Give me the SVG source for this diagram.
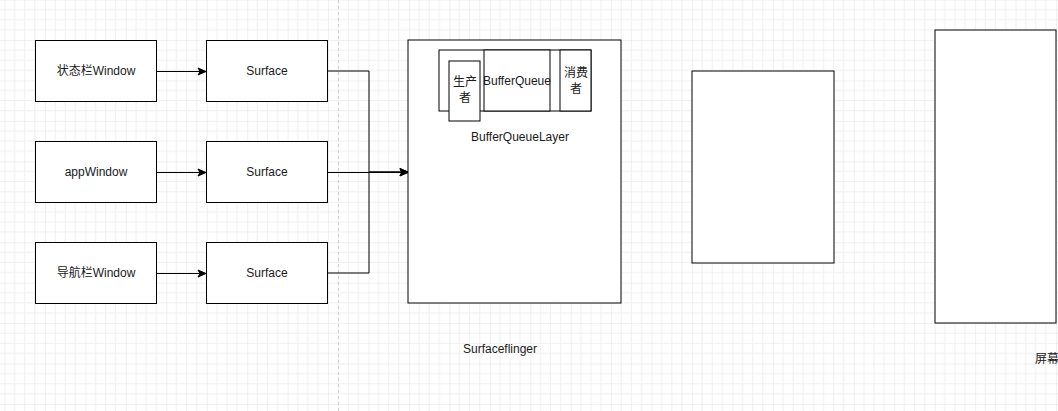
<svg xmlns="http://www.w3.org/2000/svg" width="1058" height="411" viewBox="0 0 1058 411">
<defs>
<pattern id="grid" patternUnits="userSpaceOnUse" x="4.56" y="-0.44" width="40.44" height="40.44">
<path d="M10.11,0V40.44M20.22,0V40.44M30.33,0V40.44M0,10.11H40.44M0,20.22H40.44M0,30.33H40.44" fill="none" stroke="#f0f0f0" stroke-width="1"/>
<path d="M0,0V40.44M0,0H40.44" fill="none" stroke="#e2e2e2" stroke-width="1"/>
</pattern>
<marker id="arrow" markerUnits="userSpaceOnUse" markerWidth="10" markerHeight="10" viewBox="0 0 10 10" refX="9" refY="5" orient="auto">
<path d="M1,1.5 L9,5 L1,8.5 L3,5 Z" fill="#000" stroke="#000" stroke-width="1"/>
</marker>
</defs>
<style>
.box{fill:#fff;stroke:#000;stroke-width:1}
.soft{fill:#fff;stroke:#000;stroke-width:1}
.t{font-family:"Liberation Sans","Noto Sans CJK SC",Arial,sans-serif;font-size:12px;fill:#1a1a1a;text-anchor:middle;dominant-baseline:central}
.edge{fill:none;stroke:#000;stroke-width:1}
</style>
<rect x="0" y="0" width="1058" height="411" fill="#fff"/>
<rect x="0" y="0" width="1058" height="411" fill="url(#grid)"/>
<line x1="338.5" y1="0" x2="338.5" y2="411" stroke="#cfcfcf" stroke-width="1" stroke-dasharray="3 3"/>

<g id="connectors">
<line class="edge" x1="156.5" y1="71.5" x2="206" y2="71.5" marker-end="url(#arrow)"/>
<line class="edge" x1="156.5" y1="172.5" x2="206" y2="172.5" marker-end="url(#arrow)"/>
<line class="edge" x1="156.5" y1="273.5" x2="206" y2="273.5" marker-end="url(#arrow)"/>
<path class="edge" d="M327,71 H369 V172 H408" marker-end="url(#arrow)"/>
<path class="edge" d="M327,172.5 H408" marker-end="url(#arrow)"/>
<path class="edge" d="M327,273 H369 V172 H408" marker-end="url(#arrow)"/>
</g>

<g id="statusbar-window">
<rect class="box" x="35.5" y="40.5" width="121" height="61"/>
<text class="t" x="96" y="71">状态栏Window</text>
</g>
<g id="app-window">
<rect class="box" x="35.5" y="141.5" width="121" height="61"/>
<text class="t" x="96" y="172">appWindow</text>
</g>
<g id="navbar-window">
<rect class="box" x="35.5" y="242.5" width="121" height="61"/>
<text class="t" x="96" y="273">导航栏Window</text>
</g>
<g id="surface-1">
<rect class="box" x="206.5" y="40.5" width="121" height="61"/>
<text class="t" x="267" y="71">Surface</text>
</g>
<g id="surface-2">
<rect class="box" x="206.5" y="141.5" width="121" height="61"/>
<text class="t" x="267" y="172">Surface</text>
</g>
<g id="surface-3">
<rect class="box" x="206.5" y="242.5" width="121" height="61"/>
<text class="t" x="267" y="273">Surface</text>
</g>

<g id="buffer-queue-layer">
<rect class="soft" x="408" y="40" width="213" height="263"/>
<text class="t" x="520" y="137">BufferQueueLayer</text>
</g>
<g id="buffer-queue-outer">
<rect class="soft" x="439" y="50" width="152" height="61"/>
</g>
<g id="buffer-queue">
<rect class="soft" x="484" y="50" width="66" height="61"/>
<text class="t" x="517" y="81">BufferQueue</text>
</g>
<g id="consumer">
<rect class="soft" x="560" y="50" width="31" height="61"/>
<text class="t" x="576" y="73">消费</text>
<text class="t" x="576" y="89">者</text>
</g>
<g id="producer">
<rect class="soft" x="449" y="61" width="31" height="60"/>
<text class="t" x="465" y="82">生产</text>
<text class="t" x="465" y="98">者</text>
</g>

<g id="box-3">
<rect class="soft" x="692" y="71" width="142" height="192"/>
</g>
<g id="screen-box">
<rect class="soft" x="935" y="30" width="121" height="293"/>
</g>

<g id="label-surfaceflinger">
<text class="t" x="500" y="349">Surfaceflinger</text>
</g>
<g id="label-screen">
<text class="t" x="1035" y="359" style="text-anchor:start">屏幕</text>
</g>
</svg>
